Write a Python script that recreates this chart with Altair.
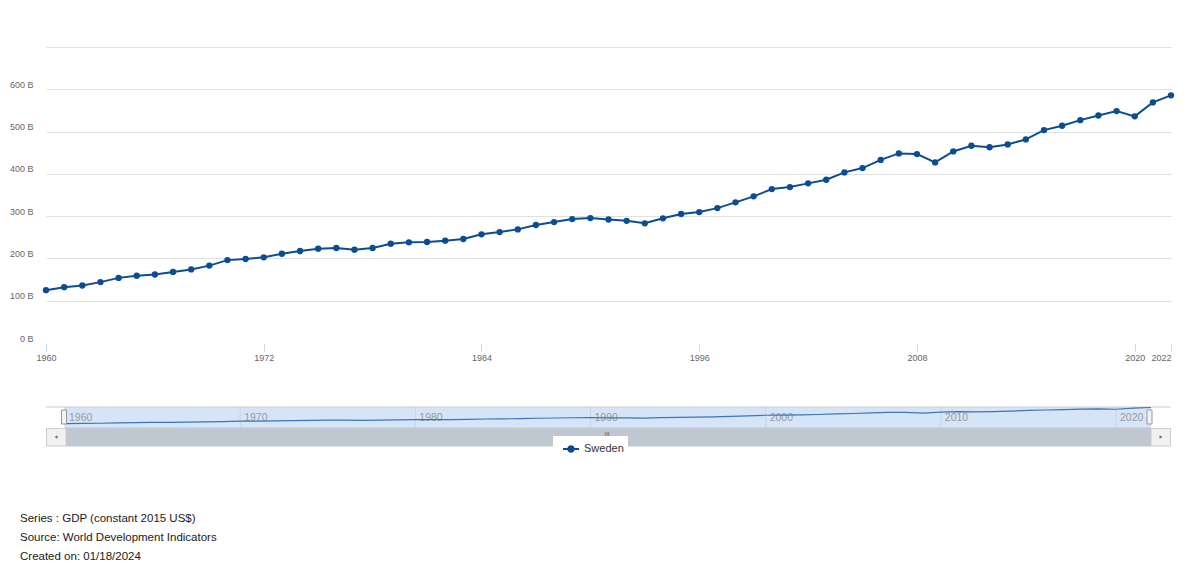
import altair as alt
import pandas as pd

# ---------------- data ----------------
years = list(range(1960, 2023))
gdp_billion = [
    125, 132, 136, 144, 154, 159, 162, 168, 174, 183,
    196, 198.6, 202.6, 211, 217.5, 223, 224.6, 220.6, 224.6, 234.8,
    238, 238.8, 241.9, 245.9, 257, 262.4, 268.7, 279, 286, 293,
    295.5, 292, 289, 283, 294.8, 305, 309.7, 319, 332.6, 346.8,
    364, 368.8, 377.5, 386, 403.5, 413.7, 433, 448.4, 446.8, 427,
    453, 466.5, 463, 469.6, 481.5, 503.5, 513.8, 527, 538, 548.5,
    536, 569, 585.6,
]
country = "Sweden"
main_year_ticks = [1960, 1972, 1984, 1996, 2008, 2020, 2022]
y_ticks = [0, 100, 200, 300, 400, 500, 600, 700]
nav_year_ticks = [1960, 1970, 1980, 1990, 2000, 2010, 2020]
footer_lines = [
    "Series : GDP (constant 2015 US$)",
    "Source: World Development Indicators",
    "Created on: 01/18/2024",
]

df = pd.DataFrame({"year": years, "gdp": gdp_billion, "country": country})
nav_df = pd.DataFrame({"year": nav_year_ticks})
one = pd.DataFrame({"k": [0]})

FONT = "Liberation Sans"
BLUE = "#0b4d92"
W, H = 1125, 296

# ---------------- main plot ----------------
x_scale = alt.Scale(domain=[1960, 2022], nice=False, zero=False)
y_scale = alt.Scale(domain=[0, 700], nice=False)

x_main = alt.X(
    "year:Q", scale=x_scale,
    axis=alt.Axis(
        values=main_year_ticks, format="d", title=None, grid=False, domain=False,
        tickColor="#ccd6eb", tickSize=8, labelPadding=2, labelFontSize=9,
        labelColor="#666666", labelFont=FONT, labelOverlap=False, labelFlush=False,
        labelAlign={"condition": {"test": "datum.value == 2022", "value": "right"}, "value": "center"},
    ),
)
y_main = alt.Y(
    "gdp:Q", scale=y_scale,
    axis=alt.Axis(
        values=y_ticks, title=None, domain=False, ticks=False, labelPadding=13,
        labelFontSize=9, labelColor="#666666", labelFont=FONT,
        labelBaseline="alphabetic", labelOffset=-2,
        gridColor="#e0e0e0",
        gridOpacity={"condition": {"test": "datum.value == 0", "value": 0}, "value": 1},
        labelExpr="datum.value == 700 ? '' : datum.value + ' B'",
    ),
)

legend_symbol = "M-1,0L1,0M-0.34,0A0.34,0.34,0,1,1,0.34,0A0.34,0.34,0,1,1,-0.34,0Z"

line = alt.Chart(df).mark_line(strokeWidth=2).encode(
    x=x_main, y=y_main,
    color=alt.Color(
        "country:N", scale=alt.Scale(range=[BLUE]),
        legend=alt.Legend(
            title=None, orient="none", legendX=507, legendY=389,
            symbolType=legend_symbol, symbolSize=256, symbolStrokeWidth=2,
            symbolFillColor=BLUE, symbolStrokeColor=BLUE, symbolOffset=5,
            labelFont=FONT, labelFontSize=11, labelColor="#333333", labelOffset=4,
            fillColor="white", padding=4,
        ),
    ),
)
points = alt.Chart(df).mark_circle(size=40, color=BLUE, opacity=1).encode(x="year:Q", y="gdp:Q")
main = alt.layer(line, points)

# ---------------- navigator ----------------
nx_scale = alt.Scale(domain=[1960, 2022], range=[19, 1105], nice=False, zero=False)
ny_scale = alt.Scale(domain=[0, 600], range=[381, 360], nice=False)

mask = alt.Chart(one).mark_rect(color="#d5e5f7").encode(
    x=alt.X(datum=1960, type="quantitative", scale=nx_scale, axis=None),
    x2=alt.X2(datum=2022),
    y=alt.Y(datum=0, type="quantitative", scale=ny_scale, axis=None),
    y2=alt.Y2(datum=600),
)
nav_grid = alt.Chart(nav_df).mark_rule(color="#c6d5e9", strokeWidth=1).encode(
    x=alt.X("year:Q", scale=nx_scale, axis=None),
    y=alt.Y(datum=0, type="quantitative", scale=ny_scale, axis=None),
    y2=alt.Y2(datum=600),
)
nav_outline = alt.Chart(one).mark_rule(color="#cccccc", strokeWidth=1).encode(
    x=alt.value(0), x2=alt.value(W),
    y=alt.Y(datum=600, type="quantitative", scale=ny_scale, axis=None),
)
nav_labels = alt.Chart(nav_df).mark_text(
    align="left", baseline="middle", dx=4, fontSize=10.5, color="#999999", font=FONT
).encode(
    x=alt.X("year:Q", scale=nx_scale, axis=None),
    y=alt.Y(datum=290, type="quantitative", scale=ny_scale, axis=None),
    text=alt.Text("year:Q", format="d"),
)
nav_line = alt.Chart(df).mark_line(color="#3d74b8", strokeWidth=1.2).encode(
    x=alt.X("year:Q", scale=nx_scale, axis=None),
    y=alt.Y("gdp:Q", scale=ny_scale, axis=None),
)

# scrollbar & handles (decoration)
def box(x0, x1, y0, y1, fill, stroke):
    return alt.Chart(one).mark_rect(fill=fill, stroke=stroke, strokeWidth=1).encode(
        x=alt.value(x0), x2=alt.value(x1), y=alt.value(y0), y2=alt.value(y1)
    )

bar = box(20, 1105, 381, 399, "#bfc8d1", "#bfc8d1")
btn_l = box(0.5, 20, 381.5, 399, "#f1f1f1", "#cccccc")
btn_r = box(1105, 1124.5, 381.5, 399, "#f1f1f1", "#cccccc")
handle_l = box(15.5, 20.5, 363, 377, "#f2f2f2", "#999999")
handle_r = box(1101, 1106, 363, 377, "#f2f2f2", "#999999")
arrow_l = alt.Chart(one).mark_point(shape="triangle-left", filled=True, size=12, color="#333333").encode(
    x=alt.value(10), y=alt.value(390))
arrow_r = alt.Chart(one).mark_point(shape="triangle-right", filled=True, size=12, color="#333333").encode(
    x=alt.value(1115), y=alt.value(390))
grip = alt.Chart(one).mark_text(text="III", fontSize=6, color="#555555", font=FONT).encode(
    x=alt.value(561), y=alt.value(386.5))

nav = alt.layer(mask, nav_grid, nav_outline, nav_labels, nav_line,
                bar, btn_l, btn_r, handle_l, handle_r, arrow_l, arrow_r, grip)

# ---------------- footer ----------------
footer = alt.Chart(one).mark_text(
    text="\n".join(footer_lines), lineBreak="\n", lineHeight=19,
    align="left", baseline="alphabetic", fontSize=11.5, color="#1a1a1a", font=FONT,
).encode(x=alt.value(-26), y=alt.value(475))

chart = (
    alt.layer(main, nav, footer)
    .resolve_scale(x="independent", y="independent")
    .properties(
        width=W, height=H, autosize="none",
        padding={"left": 46, "top": 47, "right": 29, "bottom": 233},
        background="white",
    )
    .configure_view(stroke=None)
)

chart.save("out.html", embed_options={"renderer": "svg", "actions": False})
